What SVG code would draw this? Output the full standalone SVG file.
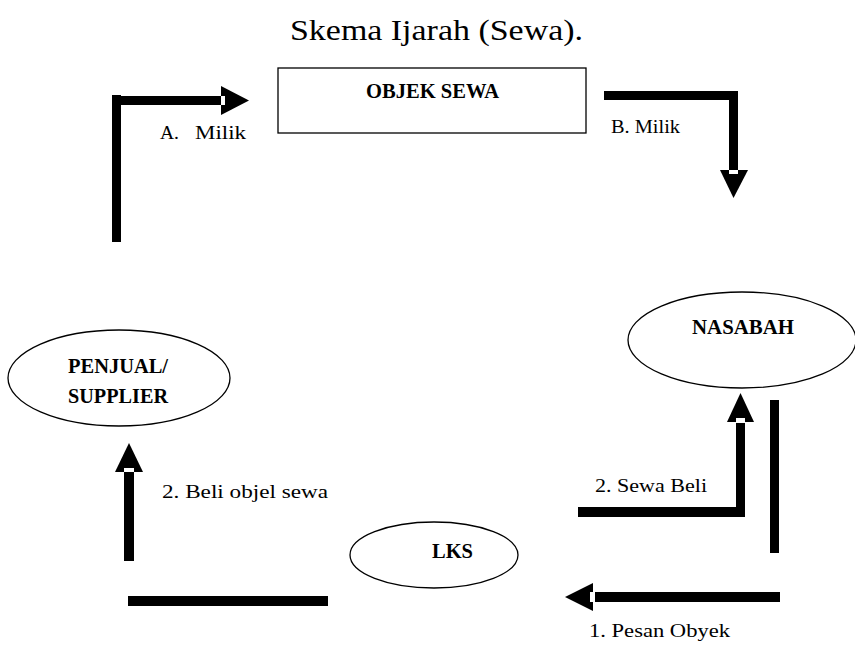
<svg xmlns="http://www.w3.org/2000/svg" width="855" height="653" viewBox="0 0 855 653">
<style>
.t{font-family:"Liberation Serif","DejaVu Serif",serif;fill:#000}
.lbl{font-size:19.5px}
.b{font-size:20.5px;font-weight:bold}
.node{fill:#fff;stroke:#000;stroke-width:1.3}
.bar{fill:#000}
.notch{fill:#fff}
</style>
<rect width="855" height="653" fill="#fff"/>
<text class="t" x="290" y="40" font-size="29" textLength="293" lengthAdjust="spacingAndGlyphs">Skema Ijarah (Sewa).</text>

<g id="objek-sewa">
<rect class="node" x="278" y="68" width="308" height="65"/>
<text class="t b" x="366" y="98" textLength="133" lengthAdjust="spacingAndGlyphs">OBJEK SEWA</text>
</g>
<g id="nasabah">
<ellipse class="node" cx="742" cy="340" rx="114" ry="48"/>
<text class="t b" x="692" y="334" textLength="102" lengthAdjust="spacingAndGlyphs">NASABAH</text>
</g>
<g id="penjual">
<ellipse class="node" cx="119" cy="378" rx="111" ry="48"/>
<text class="t b" x="68" y="373" textLength="100" lengthAdjust="spacingAndGlyphs">PENJUAL/</text>
<text class="t b" x="68" y="403" textLength="100" lengthAdjust="spacingAndGlyphs">SUPPLIER</text>
</g>
<g id="lks">
<ellipse class="node" cx="434" cy="555" rx="84" ry="33"/>
<text class="t b" x="432" y="558" textLength="41" lengthAdjust="spacingAndGlyphs">LKS</text>
</g>

<g id="connectors">
<!-- A. Milik -->
<rect class="bar" x="112" y="95" width="9" height="147"/>
<rect class="bar" x="112" y="96" width="110" height="9"/>
<polygon class="bar" points="221,86 249,100.5 221,115"/>
<rect class="notch" x="221" y="96" width="4" height="9"/>
<!-- B. Milik -->
<rect class="bar" x="604" y="91" width="134" height="9"/>
<rect class="bar" x="729" y="91" width="9" height="80"/>
<polygon class="bar" points="720,170 748,170 733.5,198"/>
<rect class="notch" x="729" y="170" width="9" height="4"/>
<!-- 2. Sewa Beli -->
<rect class="bar" x="578" y="507" width="167" height="10"/>
<rect class="bar" x="736" y="420" width="9" height="97"/>
<polygon class="bar" points="740.5,393 754,422 727,422"/>
<rect class="notch" x="736" y="418" width="9" height="5"/>
<!-- right vertical -->
<rect class="bar" x="770" y="400" width="9" height="153"/>
<!-- 1. Pesan Obyek -->
<rect class="bar" x="592" y="592" width="188" height="10"/>
<polygon class="bar" points="565,597 593,583 593,611"/>
<rect class="notch" x="590" y="592" width="5" height="10"/>
<!-- 2. Beli objel sewa -->
<rect class="bar" x="128" y="596" width="200" height="10"/>
<rect class="bar" x="124" y="469" width="10" height="92"/>
<polygon class="bar" points="129,443 143,472 115,472"/>
<rect class="notch" x="124" y="468" width="10" height="4"/>
</g>

<text class="t lbl" x="160" y="139" textLength="19" lengthAdjust="spacingAndGlyphs">A.</text>
<text class="t lbl" x="195" y="139" textLength="51" lengthAdjust="spacingAndGlyphs">Milik</text>
<text class="t lbl" x="611" y="133" textLength="69" lengthAdjust="spacingAndGlyphs">B. Milik</text>
<text class="t lbl" x="595" y="492" textLength="112" lengthAdjust="spacingAndGlyphs">2. Sewa Beli</text>
<text class="t lbl" x="589" y="637" textLength="141" lengthAdjust="spacingAndGlyphs">1. Pesan Obyek</text>
<text class="t lbl" x="162" y="498" textLength="166" lengthAdjust="spacingAndGlyphs">2. Beli objel sewa</text>
</svg>
